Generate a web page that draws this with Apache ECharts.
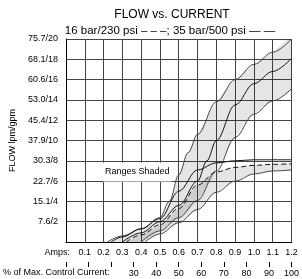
<!DOCTYPE html>
<html><head><meta charset="utf-8">
<script src="https://cdn.jsdelivr.net/npm/echarts@6/dist/echarts.min.js"></script>
<style>html,body{margin:0;padding:0;background:#fff}#c{width:302px;height:279px}</style>
</head><body><div id="c"></div>
<script>
// ---- data ----
const ampLabels = ['', '0.1','0.2','0.3','0.4','0.5','0.6','0.7','0.8','0.9','1.0','1.1','1.2'];
const pctLabels = ['', '', '', '30','40','50','60','70','80','90','100'];
const flowLabels = ['', '7.6/2','15.1/4','22.7/6','30.3/8','37.9/10','45.4/12','53.0/14','60.6/16','68.1/18','75.7/20'];

// upper group (steep)
const hiUpper = [[0.22,0],[0.3,0.6],[0.4,1.3],[0.5,2.4],[0.55,4.0],[0.6,6.6],[0.65,8.8],[0.7,10.6],[0.8,13.8],[0.9,16.0],[1.0,17.5],[1.1,18.7],[1.2,20]];
const hiMid   = [[0.3,0],[0.4,0.9],[0.5,2.0],[0.6,3.6],[0.7,6.0],[0.75,8.0],[0.8,10.0],[0.9,13.5],[1.0,15.6],[1.1,16.8],[1.2,18.1]];
const hiLower = [[0.4,0],[0.5,1.1],[0.6,2.4],[0.7,4.1],[0.8,7.0],[0.9,10.3],[1.0,12.6],[1.1,13.9],[1.2,15.1]];
// lower group (saturating)
const loTop   = [[0.24,0],[0.3,0.5],[0.4,1.3],[0.5,2.3],[0.6,5.0],[0.7,7.1],[0.8,7.8],[0.9,8.0],[1.0,8.1],[1.2,8.1]];
const loMid   = [[0.32,0],[0.4,0.7],[0.5,1.7],[0.6,3.3],[0.7,5.6],[0.8,6.9],[0.9,7.35],[1.0,7.55],[1.1,7.65],[1.2,7.7]];
const loLower = [[0.42,0],[0.5,0.8],[0.6,1.9],[0.7,3.2],[0.8,4.9],[0.9,6.0],[1.0,6.7],[1.1,7.0],[1.2,7.1]];

const FONT = '"Liberation Sans", Arial, sans-serif';
const SM = 0.35;
const chart = echarts.init(document.getElementById('c'), null, {renderer:'canvas'});

function band(upper, lower){
  return function(params, api){
    const up = upper.map(p=>api.coord(p));
    const lo = lower.slice().reverse().map(p=>api.coord(p));
    return {type:'polyline', shape:{points:up.concat(lo), smooth:SM}, style:{fill:'rgba(0,0,0,0.1)', stroke:null}, silent:true};
  };
}
function line(data, color, type){
  return {type:'line', data:data, showSymbol:false, silent:true, smooth:SM, smoothMonotone:'x',
    lineStyle:{color:color, width:1, type:type||'solid'}, xAxisIndex:0, yAxisIndex:0};
}

chart.setOption({
  animation:false,
  grid:{left:61, top:39, width:233, height:203},
  xAxis:[{
    type:'value', min:0, max:1.2, interval:0.1,
    axisLine:{show:true, lineStyle:{color:'#000', width:1}},
    axisTick:{show:false},
    splitLine:{show:true, lineStyle:{color:'#444', width:1}},
    axisLabel:{fontSize:9, fontFamily:FONT, color:'#000', margin:6,
      formatter:v=>ampLabels[Math.round(v/0.1)]||'' , showMinLabel:true, showMaxLabel:true}
  },{
    type:'value', min:0, max:100, interval:10, position:'bottom', offset:20,
    axisLine:{show:false}, splitLine:{show:false},
    axisTick:{show:true, length:5, lineStyle:{color:'#000'}},
    axisLabel:{fontSize:9, fontFamily:FONT, color:'#000', margin:7,
      formatter:v=>pctLabels[Math.round(v/10)]||'', showMinLabel:true, showMaxLabel:true}
  }],
  yAxis:{
    type:'value', min:0, max:20, interval:2,
    axisLine:{show:true, lineStyle:{color:'#000', width:1}},
    axisTick:{show:false},
    splitLine:{show:true, lineStyle:{color:'#444', width:1}},
    axisLabel:{fontSize:9, fontFamily:FONT, color:'#000', margin:8,
      formatter:v=>flowLabels[Math.round(v/2)]||''},
    name:'FLOW lpm/gpm', nameLocation:'middle', nameGap:49, nameRotate:90,
    nameTextStyle:{fontSize:9, fontFamily:FONT, color:'#000'}
  },
  graphic:[
    {type:'text', x:172, y:15, style:{text:'FLOW vs. CURRENT', font:'12px '+FONT, fill:'#000', align:'center', verticalAlign:'middle'}},
    {type:'text', x:170, y:31, style:{text:'16 bar/230 psi – – –; 35 bar/500 psi — —', font:'11.5px '+FONT, fill:'#000', align:'center', verticalAlign:'middle'}},
    {type:'text', x:103, y:172, z:100, style:{text:'Ranges Shaded', font:'9px '+FONT, fill:'#000', verticalAlign:'middle', backgroundColor:'#fff', padding:[5,2]}},
    {type:'text', x:70, y:253, style:{text:'Amps:', font:'9px '+FONT, fill:'#000', align:'right', verticalAlign:'middle'}},
    {type:'text', x:3, y:273, style:{text:'% of Max. Control Current:', font:'9px '+FONT, fill:'#000', align:'left', verticalAlign:'middle'}}
  ],
  series:[
    {type:'custom', renderItem:band(hiUpper, hiLower), data:[[0,0]], silent:true, clip:true, xAxisIndex:0, yAxisIndex:0, z:1},
    {type:'custom', renderItem:band(loMid, loLower), data:[[0,0]], silent:true, clip:true, xAxisIndex:0, yAxisIndex:0, z:1},
    line(hiUpper,'#444'), line(hiMid,'#111'), line(hiLower,'#444'),
    line(loTop,'#111'), line(loMid,'#111',[5,3]), line(loLower,'#444')
  ]
});
</script></body></html>
